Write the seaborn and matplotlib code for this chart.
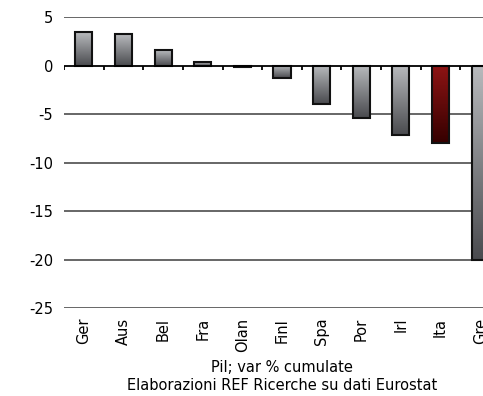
import numpy as np
import matplotlib
matplotlib.use("Agg")
import matplotlib.pyplot as plt
from matplotlib.colors import LinearSegmentedColormap
import seaborn as sns

countries = ["Ger", "Aus", "Bel", "Fra", "Olan", "Finl", "Spa", "Por", "Irl", "Ita", "Gre"]
pil_var = [3.5, 3.2, 1.6, 0.4, -0.2, -1.3, -4.0, -5.4, -7.2, -8.0, -20.0]
highlight = "Ita"
y_ticks = [5, 0, -5, -10, -15, -20, -25]

sns.set_theme(style="white")
plt.rcParams["font.family"] = ["DejaVu Sans"]
plt.rcParams["text.color"] = "black"
plt.rcParams["xtick.color"] = "black"
plt.rcParams["ytick.color"] = "black"
plt.rcParams["axes.labelcolor"] = "black"

fig = plt.figure(figsize=(4.83, 3.96), dpi=100)
ax = fig.add_axes([0.1325, 0.222, 0.9027, 0.735])

sns.barplot(x=countries, y=pil_var, color="#999999", width=0.43,
            edgecolor="#111111", linewidth=1.5, ax=ax, zorder=3)

grey_cm = LinearSegmentedColormap.from_list("g", ["#b8babd", "#4a4b4f"])
red_cm = LinearSegmentedColormap.from_list("r", ["#8e1414", "#350000"])
grad = np.linspace(0, 1, 100).reshape(-1, 1)

for name, patch in zip(countries, ax.patches):
    x0, y0 = patch.get_x(), patch.get_y()
    w, h = patch.get_width(), patch.get_height()
    top, bot = max(y0, y0 + h), min(y0, y0 + h)
    cm = red_cm if name == highlight else grey_cm
    im = ax.imshow(grad, cmap=cm, aspect="auto", extent=[x0, x0 + w, bot, top],
                   origin="upper", zorder=2)
    im.set_clip_path(patch)
    patch.set_facecolor("none")

ax.set_xlim(-0.5, len(countries) - 0.5)
ax.set_ylim(-25, 5)
ax.set_yticks(y_ticks)
ax.set_yticklabels([str(t) for t in y_ticks], fontsize=10.5)
ax.tick_params(axis="y", length=0, pad=8)
ax.tick_params(axis="x", length=0, pad=7)
ax.set_xticks(range(len(countries)))
ax.set_xticklabels(countries, rotation=90, fontsize=10.5)

for t in y_ticks:
    if t != 0:
        ax.axhline(t, color="#5a5a5a", linewidth=1.3, zorder=1)
ax.axhline(0, color="black", linewidth=1.3, zorder=4)
bounds = np.arange(len(countries) + 1) - 0.5
ax.vlines(bounds, -0.45, 0, color="black", linewidth=1.3, zorder=4)

for s in ax.spines.values():
    s.set_visible(False)
ax.set_xlabel("Pil; var % cumulate\nElaborazioni REF Ricerche su dati Eurostat",
              fontsize=10.5, labelpad=6, linespacing=1.25)

fig.savefig("out.png", dpi=100)
